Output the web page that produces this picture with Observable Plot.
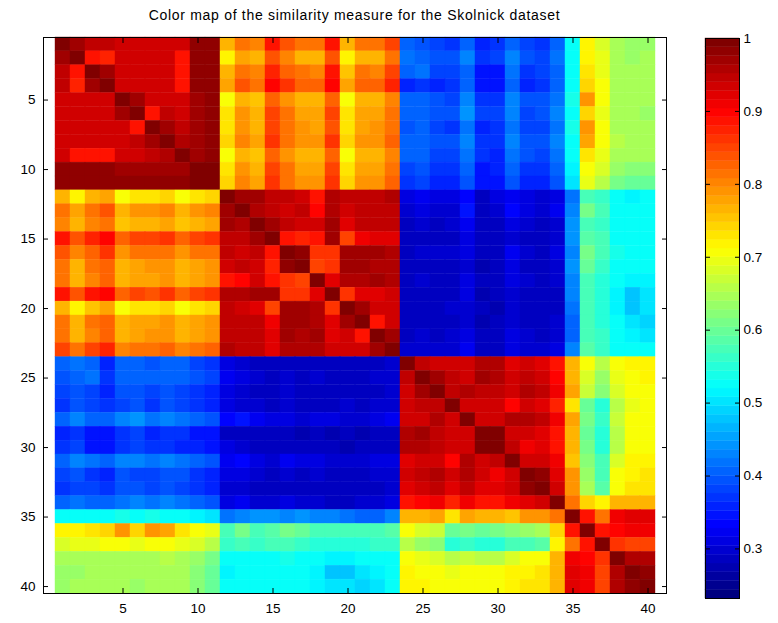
<!DOCTYPE html>
<html><head><meta charset="utf-8">
<script src="https://cdn.jsdelivr.net/npm/d3@7"></script>
<script src="https://cdn.jsdelivr.net/npm/@observablehq/plot@0.6"></script>
<style>
body{margin:0;background:#fff;font-family:"Liberation Sans",Arial,sans-serif;}
#wrap{position:relative;width:778px;height:623px;overflow:hidden;}
#title{position:absolute;top:7px;left:43px;width:623px;text-align:center;font-size:14px;letter-spacing:0.7px;color:#000;white-space:nowrap;}
#main{position:absolute;left:0;top:0;}
#bar{position:absolute;left:690px;top:0;}
</style></head><body>
<div id="wrap"><div id="title">Color map of the similarity measure for the Skolnick dataset</div><div id="main"></div><div id="bar"></div></div>
<script>
// Similarity matrix (values x 100), rows 1..40, columns 1..40
const rows = [
[100,97,95,95,94,94,94,94,94,98,98, 76,82,80,88,84,81,81,88,76,81,81,85, 40,39,38,37,41,36,37,41,38,37,40, 52, 72,68,64,63,63],
[97,100,88,87,94,93,94,94,89,98,98, 72,78,76,84,80,77,77,84,72,77,77,81, 42,41,39,39,43,37,38,43,39,38,42, 53, 72,69,64,63,64],
[95,88,100,97,94,93,94,94,88,98,98, 76,81,80,87,83,81,80,88,75,81,80,85, 40,42,38,38,41,34,34,42,37,38,41, 52, 73,69,65,64,64],
[95,87,97,100,93,94,93,94,88,98,98, 78,84,82,90,86,83,83,90,78,83,83,87, 36,37,36,37,40,35,35,41,36,37,40, 53, 74,70,65,64,65],
[94,94,94,93,100,97,93,94,93,97,98, 71,77,75,83,79,76,76,83,71,76,76,80, 41,40,39,38,43,37,37,43,39,39,42, 54, 79,70,65,64,64],
[94,93,93,94,97,100,89,95,94,97,98, 73,79,77,85,81,78,78,85,73,78,78,82, 40,41,39,39,44,38,38,43,38,39,43, 53, 74,69,64,64,63],
[94,94,94,93,93,89,100,97,95,97,98, 73,79,77,85,81,79,78,84,73,78,79,82, 39,40,38,37,42,36,37,42,38,38,42, 54, 79,70,65,64,64],
[94,94,94,94,94,95,97,100,96,97,98, 74,80,78,86,82,79,79,86,74,79,79,83, 41,40,39,39,43,37,37,43,39,39,43, 53, 78,70,66,65,65],
[94,89,88,88,93,94,95,96,100,97,98, 71,77,75,83,79,76,76,83,71,76,76,80, 40,41,38,38,42,37,36,42,39,38,42, 52, 73,69,65,64,64],
[98,98,98,98,97,97,97,97,97,100,99, 73,79,77,85,81,78,78,85,73,78,78,82, 38,39,37,37,40,35,36,40,37,37,40, 51, 71,68,63,62,62],
[98,98,98,98,98,98,98,98,98,99,100, 74,80,78,86,82,79,79,86,74,79,79,83, 37,38,36,36,39,34,35,39,36,36,39, 50, 69,66,61,60,60],
[76,72,76,78,71,73,73,74,71,73,74, 100,97,97,95,95,94,89,96,95,95,95,96, 31,32,31,31,33,29,31,32,31,30,31, 42, 58,56,52,51,52],
[82,78,81,84,77,79,79,80,77,79,80, 97,100,96,95,94,95,90,96,93,95,95,95, 30,31,30,30,34,29,30,33,31,30,32, 43, 61,57,53,52,53],
[80,76,80,82,75,77,77,78,75,77,78, 97,96,100,97,95,93,94,97,92,95,95,95, 29,30,29,30,32,28,29,31,30,29,30, 44, 58,56,52,52,52],
[88,84,87,90,83,85,85,86,83,85,86, 95,95,97,100,88,87,88,97,85,91,92,92, 28,29,29,29,31,28,28,30,29,29,30, 44, 59,57,53,52,53],
[84,80,83,86,79,81,81,82,79,81,82, 95,94,95,88,100,98,86,86,97,97,97,96, 29,30,30,30,31,28,29,32,30,29,31, 43, 61,57,54,53,53],
[81,77,81,83,76,78,79,79,76,78,79, 94,95,93,87,98,100,85,86,97,97,96,96, 28,29,29,29,30,27,28,31,29,29,30, 44, 60,56,53,52,52],
[81,77,80,83,76,78,78,79,76,78,79, 89,90,94,88,86,85,100,92,96,96,97,96, 29,30,29,29,31,28,29,31,30,28,30, 43, 58,55,52,51,51],
[88,84,88,90,83,85,84,86,83,85,86, 96,96,97,97,86,86,92,100,86,92,92,93, 28,29,28,29,31,27,28,30,28,28,29, 43, 58,55,51,48,50],
[76,72,75,78,71,73,73,74,71,73,74, 95,93,92,85,97,97,96,86,100,97,93,93, 28,29,29,30,30,28,27,30,29,28,29, 42, 57,55,51,48,50],
[81,77,81,83,76,78,78,79,76,78,79, 95,95,95,91,97,97,96,92,97,100,89,93, 29,29,28,29,30,27,28,30,29,29,30, 41, 58,55,52,50,49],
[81,77,80,83,76,78,79,79,76,78,79, 95,95,95,92,97,96,97,92,93,89,100,97, 29,30,29,30,31,28,29,31,30,29,30, 41, 58,56,52,51,50],
[85,81,85,87,80,82,82,83,80,82,83, 96,95,95,92,96,96,96,93,93,93,97,100, 30,30,30,30,32,29,29,31,30,30,31, 43, 59,56,53,52,52],
[40,42,40,36,41,40,39,41,40,38,37, 31,30,29,28,29,28,29,28,28,29,29,30, 100,95,94,93,93,96,96,92,93,92,89, 76, 70,66,71,72,72],
[39,41,42,37,40,41,40,40,41,39,38, 32,31,30,29,30,29,30,29,29,29,30,30, 95,100,97,95,94,97,96,94,95,94,90, 77, 68,63,69,71,72],
[38,39,38,36,39,39,38,39,38,37,36, 31,30,29,29,30,29,29,28,29,28,29,30, 94,97,100,95,96,95,95,93,96,95,91, 78, 67,62,68,71,71],
[37,39,38,37,38,39,37,39,38,37,36, 31,30,30,29,30,29,29,29,30,29,30,30, 93,95,95,100,94,93,93,90,93,92,87, 73, 60,55,66,69,70],
[41,43,41,40,43,44,42,43,42,40,39, 33,34,32,31,31,30,31,31,30,30,31,32, 93,94,96,94,100,93,94,96,96,95,91, 78, 61,56,67,70,71],
[36,37,34,35,37,38,36,37,37,35,34, 29,29,28,28,28,27,28,27,28,27,28,29, 96,97,95,93,93,100,99,93,93,92,89, 77, 60,55,66,70,70],
[37,38,34,35,37,38,37,37,36,36,35, 31,30,29,28,29,28,29,28,27,28,29,29, 96,96,95,93,94,99,100,95,91,92,89, 76, 61,55,66,70,71],
[41,43,42,41,43,43,42,43,42,40,39, 32,33,31,30,32,31,31,30,30,30,31,31, 92,94,93,90,96,93,95,100,93,93,91, 75, 62,57,68,72,72],
[38,39,37,36,39,38,38,39,39,37,36, 31,31,30,29,30,29,30,28,29,29,30,30, 93,95,96,93,96,93,91,93,100,98,92, 79, 63,58,70,72,73],
[37,38,38,37,39,39,38,39,38,37,36, 30,30,29,29,29,29,28,28,28,29,29,30, 92,94,95,92,95,92,92,93,98,100,93, 79, 64,59,70,73,73],
[40,42,41,40,42,43,42,43,42,40,39, 31,32,30,30,31,30,30,29,29,30,30,31, 89,90,91,87,91,89,89,91,92,93,100, 82, 74,72,76,77,76],
[52,53,52,53,54,53,54,53,52,51,50, 42,43,44,44,43,44,43,43,42,41,41,43, 76,77,78,73,78,77,76,75,79,79,82, 100, 88,82,91,92,92],
[72,72,73,74,79,74,79,78,73,71,69, 58,61,58,59,61,60,58,58,57,58,58,59, 70,68,67,60,61,60,61,62,63,64,74, 88, 100,88,90,91,91],
[68,69,69,70,70,69,70,70,69,68,66, 56,57,56,57,57,56,55,55,55,55,56,56, 66,63,62,55,56,55,55,57,58,59,72, 82, 88,100,86,85,85],
[64,64,65,65,65,64,65,66,65,63,61, 52,53,52,53,54,53,52,51,51,52,52,53, 71,69,68,66,67,66,66,68,70,70,76, 91, 90,86,100,96,96],
[63,63,64,64,64,64,64,65,64,62,60, 51,52,52,52,53,52,51,48,48,50,51,52, 72,71,71,69,70,70,70,72,72,73,77, 92, 91,85,96,100,98],
[63,64,64,65,64,63,64,65,64,62,60, 52,53,52,53,53,52,51,50,50,49,50,52, 72,72,71,70,71,70,71,72,73,73,76, 92, 91,85,96,98,100]
];
const indices = d3.range(1, 41);
const xTicks = [5, 10, 15, 20, 25, 30, 35, 40];
const yTicks = [5, 10, 15, 20, 25, 30, 35, 40];
const barTicks = [0.3, 0.4, 0.5, 0.6, 0.7, 0.8, 0.9, 1];
const colorMin = 0.232, colorMax = 1;

const cells = [];
rows.forEach((r, i) => r.forEach((v, j) => cells.push({row: i + 1, col: j + 1, value: v / 100})));

// MATLAB jet colormap with 64 levels
function jet(t) {
  const k = Math.max(0, Math.min(63, Math.floor(t * 64)));
  const s = k / 63;
  const c = x => Math.max(0, Math.min(1, x));
  const r = c(Math.min(4 * s - 1.5, -4 * s + 4.5));
  const g = c(Math.min(4 * s - 0.5, -4 * s + 3.5));
  const b = c(Math.min(4 * s + 0.5, -4 * s + 2.5));
  return `rgb(${Math.round(r * 255)},${Math.round(g * 255)},${Math.round(b * 255)})`;
}
const colorOpts = {type: "linear", domain: [colorMin, colorMax], interpolate: jet, clamp: true};
const font = {fontFamily: "'Liberation Sans', Arial, sans-serif", fontSize: "13.5px", color: "#000", background: "transparent", overflow: "visible"};

const main = Plot.plot({
  width: 700, height: 623,
  marginLeft: 43, marginRight: 34, marginTop: 37, marginBottom: 30,
  style: font,
  x: {type: "band", domain: indices, padding: 0, axis: null},
  y: {type: "band", domain: indices, padding: 0, axis: null},
  color: colorOpts,
  marks: [
    Plot.cell(cells, {x: "col", y: "row", fill: "value", stroke: "value", strokeWidth: 0.4, inset: 0}),
    Plot.frame({stroke: "#000", strokeWidth: 1}),
    Plot.axisX(xTicks, {anchor: "bottom", tickSize: -5, tickPadding: 15, label: null, stroke: "#000"}),
    Plot.axisX(xTicks, {anchor: "top", tickSize: -5, tickFormat: () => "", label: null, stroke: "#000"}),
    Plot.axisY(yTicks, {anchor: "left", tickSize: -5, tickPadding: 13, label: null, stroke: "#000"}),
    Plot.axisY(yTicks, {anchor: "right", tickSize: -5, tickFormat: () => "", label: null, stroke: "#000"})
  ]
});
document.getElementById("main").appendChild(main);

// colour bar levels (64 bands of the colormap)
const levels = d3.range(64).map(i => {
  const lo = colorMin + (colorMax - colorMin) * i / 64;
  const hi = colorMin + (colorMax - colorMin) * (i + 1) / 64;
  return {lo, hi, mid: (lo + hi) / 2};
});
const bar = Plot.plot({
  width: 88, height: 623,
  marginLeft: 15, marginRight: 39, marginTop: 38, marginBottom: 25,
  style: font,
  x: {domain: [0, 1], axis: null},
  y: {domain: [colorMin, colorMax], axis: null},
  color: colorOpts,
  marks: [
    Plot.rect(levels, {x1: 0, x2: 1, y1: "lo", y2: "hi", fill: "mid", stroke: "mid", strokeWidth: 0.4}),
    Plot.frame({stroke: "#000"}),
    Plot.axisY(barTicks, {anchor: "right", tickSize: -5, tickPadding: 9, tickFormat: d => String(d), label: null, stroke: "#000"}),
    Plot.axisY(barTicks, {anchor: "left", tickSize: -5, tickFormat: () => "", label: null, stroke: "#000"})
  ]
});
document.getElementById("bar").appendChild(bar);
</script>
</body></html>
